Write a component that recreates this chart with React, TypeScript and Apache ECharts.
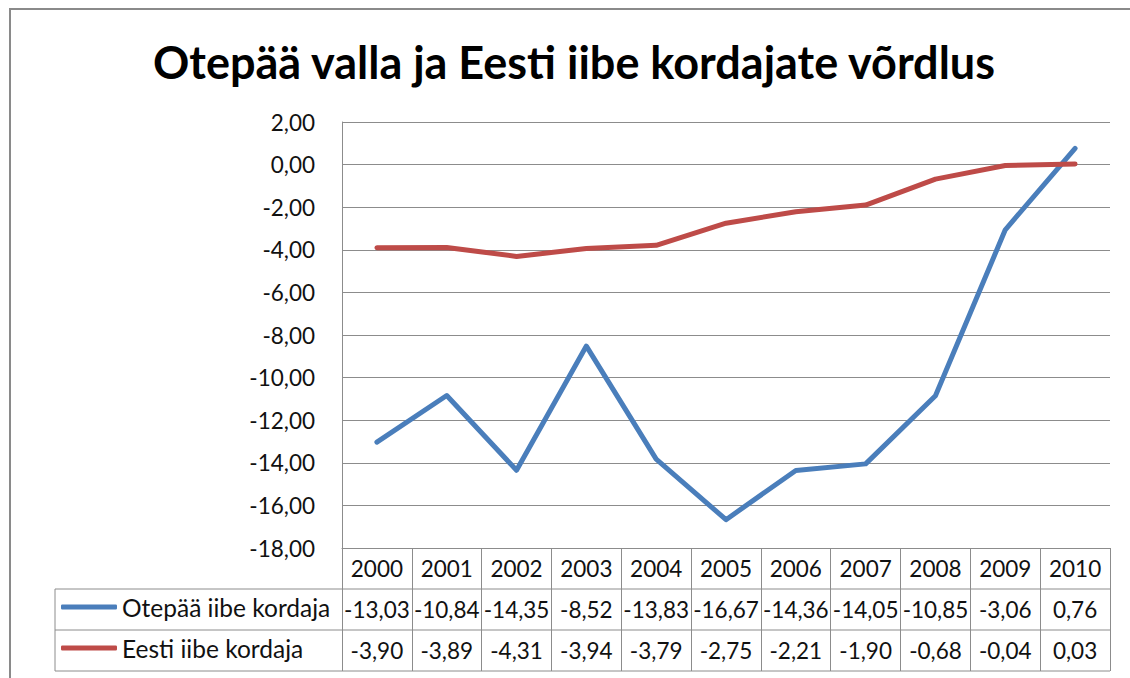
import React, { useEffect, useRef } from "react";
import * as echarts from "echarts";

const title = "Otepää valla ja Eesti iibe kordajate võrdlus";
const years = ["2000", "2001", "2002", "2003", "2004", "2005", "2006", "2007", "2008", "2009", "2010"];
const otepaaName = "Otepää iibe kordaja";
const eestiName = "Eesti iibe kordaja";
const otepaa = [-13.03, -10.84, -14.35, -8.52, -13.83, -16.67, -14.36, -14.05, -10.85, -3.06, 0.76];
const eesti = [-3.9, -3.89, -4.31, -3.94, -3.79, -2.75, -2.21, -1.9, -0.68, -0.04, 0.03];
const yMin = -18;
const yMax = 2;
const yStep = 2;

const fmt = (v: number) => v.toFixed(2).replace(".", ",");

const FONT = "Lato, 'Open Sans', sans-serif";
const GRID_LEFT = 342;
const GRID_TOP = 122;
const GRID_W = 768;
const GRID_H = 426;
const ROW_H = 41;
const TABLE_LEFT = 55;
const LINE_COLOR = "#8c8c8c";
const TEXT_COLOR = "#111";

export default function App() {
  const ref = useRef<HTMLDivElement>(null);
  useEffect(() => {
    if (!ref.current) return;
    const chart = echarts.init(ref.current, undefined, { renderer: "svg" });
    const gridBottom = GRID_TOP + GRID_H;
    const tableBottom = gridBottom + ROW_H * 3;
    const gridRight = GRID_LEFT + GRID_W;
    const legendCommon = {
      orient: "horizontal",
      left: 61,
      itemGap: 0,
      itemWidth: 56,
      itemHeight: 5,
      padding: 0,
      icon: "roundRect",
      textStyle: { fontFamily: FONT, fontSize: 24.5, color: TEXT_COLOR },
    };
    chart.setOption({
      animation: false,
      backgroundColor: "#fff",
      grid: { left: GRID_LEFT, top: GRID_TOP, width: GRID_W, height: GRID_H, containLabel: false },
      legend: [
        { ...legendCommon, top: gridBottom + ROW_H * 1.5 - 15, data: [otepaaName] },
        { ...legendCommon, top: gridBottom + ROW_H * 2.5 - 15, data: [eestiName] },
      ],
      xAxis: {
        type: "category",
        data: years,
        boundaryGap: true,
        axisLine: { show: true, onZero: false, lineStyle: { color: LINE_COLOR, width: 1 } },
        axisTick: { show: true, inside: false, length: ROW_H * 3, interval: 0, lineStyle: { color: LINE_COLOR, width: 1 } },
        axisLabel: {
          interval: 0,
          margin: 0,
          fontFamily: FONT,
          fontSize: 22,
          color: TEXT_COLOR,
          lineHeight: ROW_H,
          formatter: (value: string, idx: number) =>
            `{t|${value}}\n{t|${fmt(otepaa[idx])}}\n{t|${fmt(eesti[idx])}}`,
          rich: { t: { fontFamily: FONT, fontSize: 22.5, color: TEXT_COLOR, lineHeight: ROW_H } },
        },
      },
      yAxis: {
        type: "value",
        min: yMin,
        max: yMax,
        interval: yStep,
        axisLine: { show: true, lineStyle: { color: LINE_COLOR, width: 1 } },
        axisTick: { show: false },
        splitLine: { show: true, lineStyle: { color: LINE_COLOR, width: 1 } },
        axisLabel: {
          margin: 27,
          fontFamily: FONT,
          fontSize: 22.5,
          color: TEXT_COLOR,
          formatter: (v: number) => fmt(v),
        },
      },
      series: [
        {
          name: otepaaName,
          type: "line",
          data: otepaa,
          symbol: "none",
          itemStyle: { color: "#4A7EBB" },
          lineStyle: { color: "#4A7EBB", width: 5, cap: "round", join: "round" },
        },
        {
          name: eestiName,
          type: "line",
          data: eesti,
          symbol: "none",
          itemStyle: { color: "#BE4B48" },
          lineStyle: { color: "#BE4B48", width: 5, cap: "round", join: "round" },
        },
      ],
      graphic: [
        {
          type: "rect",
          shape: { x: 10, y: 9, width: 1200, height: 720 },
          style: { fill: "none", stroke: "#8a8a8a", lineWidth: 2 },
          silent: true,
        },
        {
          type: "text",
          x: 574,
          y: 62,
          style: {
            text: title,
            fontFamily: FONT,
            fontWeight: "bold",
            fontSize: 45,
            fill: "#000",
            align: "center",
            verticalAlign: "middle",
          },
        },
        {
          type: "line",
          shape: { x1: TABLE_LEFT, y1: gridBottom + ROW_H, x2: gridRight, y2: gridBottom + ROW_H },
          style: { stroke: LINE_COLOR, lineWidth: 1 },
        },
        {
          type: "line",
          shape: { x1: TABLE_LEFT, y1: gridBottom + ROW_H * 2, x2: gridRight, y2: gridBottom + ROW_H * 2 },
          style: { stroke: LINE_COLOR, lineWidth: 1 },
        },
        {
          type: "line",
          shape: { x1: TABLE_LEFT, y1: tableBottom, x2: gridRight, y2: tableBottom },
          style: { stroke: LINE_COLOR, lineWidth: 1 },
        },
        {
          type: "line",
          shape: { x1: TABLE_LEFT, y1: gridBottom + ROW_H, x2: TABLE_LEFT, y2: tableBottom },
          style: { stroke: LINE_COLOR, lineWidth: 1 },
        },
      ],
    });
    return () => chart.dispose();
  }, []);
  return (
    <div
      ref={ref}
      style={{ position: "absolute", left: 0, top: 0, width: 1130, height: 678 }}
    />
  );
}
